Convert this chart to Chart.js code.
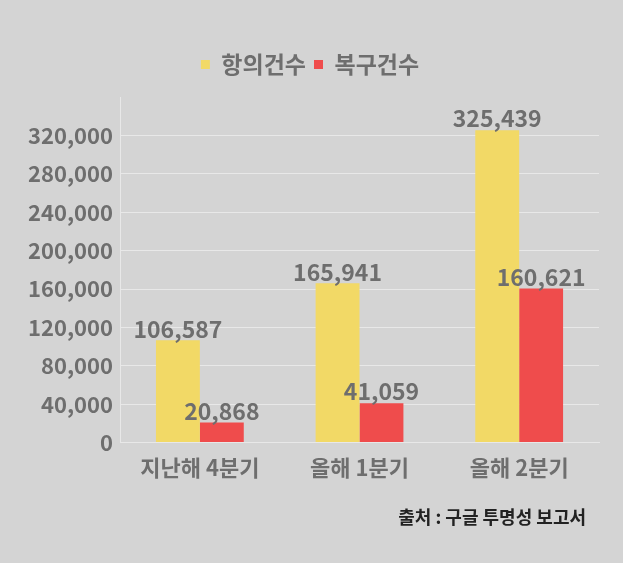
<!DOCTYPE html>
<html>
<head>
<meta charset="utf-8">
<script src="https://cdn.jsdelivr.net/npm/chart.js@4/dist/chart.umd.min.js"></script>
<style>
  html, body { margin: 0; padding: 0; background: #d4d4d4; }
  #wrap { position: relative; width: 623px; height: 563px; }
  #source {
    position: absolute; right: 37px; top: 503px;
    font-family: "Noto Sans CJK KR", sans-serif; font-weight: bold;
    font-size: 18px; color: #222;
  }
</style>
</head>
<body>
<div id="wrap">
  <canvas id="grafico" width="623" height="563"></canvas>
  <div id="source">출처 : 구글 투명성 보고서</div>
</div>
<script>
// datos
const categorias = ["지난해 4분기", "올해 1분기", "올해 2분기"];
const seriesNombres = ["항의건수", "복구건수"];
const hangui = [106587, 165941, 325439];
const bokgu = [20868, 41059, 160621];
const ticksY = [0, 40000, 80000, 120000, 160000, 200000, 240000, 280000, 320000];

const FUENTE = '"Noto Sans CJK KR", sans-serif';

// etiquetas sobre las barras
const etiquetas = {
  id: "etiquetas",
  afterDatasetsDraw(chart) {
    const ctx = chart.ctx;
    ctx.save();
    ctx.font = "bold 23px " + FUENTE;
    ctx.fillStyle = "#6e6e6e";
    ctx.textAlign = "center";
    ctx.textBaseline = "bottom";
    chart.data.datasets.forEach((ds, i) => {
      chart.getDatasetMeta(i).data.forEach((bar, j) => {
        ctx.fillText(ds.data[j].toLocaleString("en-US"), bar.x, bar.y);
      });
    });
    ctx.restore();
  },
};

// espacio extra bajo la leyenda
const espacioLeyenda = {
  id: "espacioLeyenda",
  beforeInit(chart) {
    const fitOrig = chart.legend.fit;
    chart.legend.fit = function () {
      fitOrig.bind(chart.legend)();
      this.height += 11;
    };
  },
};

new Chart(document.getElementById("grafico"), {
  type: "bar",
  data: {
    labels: categorias,
    datasets: [
      { label: seriesNombres[0], data: hangui, backgroundColor: "#f2d966" },
      { label: seriesNombres[1], data: bokgu, backgroundColor: "#ef4c4c" },
    ],
  },
  options: {
    responsive: false,
    animation: false,
    layout: { padding: { left: 21, right: 24, top: 45, bottom: 78 } },
    categoryPercentage: 0.55,
    barPercentage: 1.0,
    plugins: {
      legend: {
        position: "top",
        labels: {
          boxWidth: 9,
          boxHeight: 9,
          padding: 8,
          color: "#6e6e6e",
          font: { family: FUENTE, size: 23, weight: "bold" },
        },
      },
      tooltip: { enabled: false },
    },
    scales: {
      x: {
        grid: { display: false },
        border: { color: "#e8e8e8" },
        ticks: {
          color: "#6e6e6e",
          font: { family: FUENTE, size: 22, weight: "bold" },
          padding: 4,
        },
      },
      y: {
        min: 0,
        max: 360000,
        afterBuildTicks: (axis) => {
          axis.ticks = ticksY.map((v) => ({ value: v }));
        },
        grid: { color: "#e8e8e8", drawTicks: false },
        border: { color: "#e8e8e8" },
        ticks: {
          color: "#6e6e6e",
          padding: 7,
          font: { family: FUENTE, size: 22, weight: "bold" },
          callback: (v) => v.toLocaleString("en-US"),
        },
      },
    },
  },
  plugins: [etiquetas, espacioLeyenda],
});
</script>
</body>
</html>
